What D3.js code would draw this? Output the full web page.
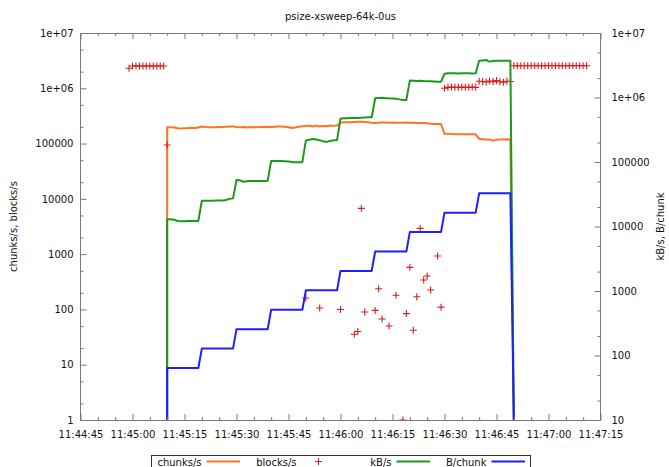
<!DOCTYPE html>
<html>
<head>
<meta charset="utf-8">
<script src="https://cdn.jsdelivr.net/npm/d3@7"></script>
<style>
  html, body { margin: 0; padding: 0; background: #fff; }
  svg { display: block; font-family: "DejaVu Sans", sans-serif; }
</style>
</head>
<body>
<svg id="chart" width="669" height="467"></svg>
<script>
// ---- data -------------------------------------------------------------
const chartTitle = "psize-xsweep-64k-0us";
const leftAxisTitle = "chunks/s, blocks/s";
const rightAxisTitle = "kB/s, B/chunk";

// Line series: one reading per second starting at lineStart; the first and
// last entries are the zero readings logged when the run starts and stops.
const lineStart = "11:45:10";

const chunksPerSec = [0,
  198000, 197000, 196000, 189000, 188000, 190000, 191000, 193000, 192000, 195000,
  203000, 199000, 198000, 197000, 198000, 200000, 199000, 201000, 203000, 204000,
  200000, 198000, 200000, 196000, 199000, 197000, 198000, 199000, 200000, 201000,
  200000, 202000, 204000, 203000, 201000, 198000, 191000, 196000, 201000, 206000,
  209000, 212000, 204000, 211000, 203000, 207000, 205000, 213000, 209000, 212000,
  240000, 243000, 244000, 242000, 245000, 247000, 249000, 246000, 243000, 238000,
  236000, 238000, 240000, 241000, 239000, 240000, 238000, 237000, 239000, 240000,
  238000, 237000, 236000, 236000, 235000, 232000, 228000, 226000, 225000, 226000,
  150000, 151000, 149000, 148000, 148000, 147000, 148000, 148000, 147000, 147000,
  122000, 120000, 119000, 118000, 113000, 117000, 119000, 118000, 120000, 119000,
  0];

const kBPerSec = [0,
  12900, 12900, 12700, 12200, 12100, 12100, 12150, 12200, 12150, 12200,
  25100, 25000, 25100, 25100, 25200, 25200, 25300, 25700, 26800, 27300,
  52600, 52000, 49500, 50500, 50800, 50600, 50800, 50700, 50800, 51000,
  104000, 104000, 103500, 104000, 103000, 101500, 100000, 99000, 98900, 99500,
  214000, 222000, 227000, 224000, 218000, 209000, 205000, 212000, 218000, 219000,
  470000, 476000, 478000, 480000, 481000, 483000, 485000, 488000, 492000, 494000,
  973000, 985000, 990000, 975000, 970000, 968000, 960000, 935000, 915000, 918000,
  1830000, 1820000, 1810000, 1820000, 1800000, 1790000, 1780000, 1770000, 1760000, 1760000,
  2330000, 2370000, 2380000, 2370000, 2360000, 2370000, 2380000, 2370000, 2360000, 2370000,
  3700000, 3750000, 3810000, 3600000, 3680000, 3720000, 3730000, 3720000, 3720000, 3710000,
  0];

const bytesPerChunk = [0,
  64, 64, 64, 64, 64, 64, 64, 64, 64, 64,
  128, 128, 128, 128, 128, 128, 128, 128, 128, 128,
  256, 256, 256, 256, 256, 256, 256, 256, 256, 256,
  512, 512, 512, 512, 512, 512, 512, 512, 512, 512,
  1024, 1024, 1024, 1024, 1024, 1024, 1024, 1024, 1024, 1024,
  2048, 2048, 2048, 2048, 2048, 2048, 2048, 2048, 2048, 2048,
  4096, 4096, 4096, 4096, 4096, 4096, 4096, 4096, 4096, 4096,
  8192, 8192, 8192, 8192, 8192, 8192, 8192, 8192, 8192, 8192,
  16384, 16384, 16384, 16384, 16384, 16384, 16384, 16384, 16384, 16384,
  32768, 32768, 32768, 32768, 32768, 32768, 32768, 32768, 32768, 32768,
  0];

// blocks/s readings (only the seconds where a value was logged)
const blockTimes = [
  "11:44:59", "11:45:00", "11:45:01", "11:45:02", "11:45:03", "11:45:04",
  "11:45:05", "11:45:06", "11:45:07", "11:45:08", "11:45:09", "11:45:10",
  "11:45:50", "11:45:54", "11:46:00", "11:46:04", "11:46:05", "11:46:06",
  "11:46:07", "11:46:10", "11:46:11", "11:46:12", "11:46:14", "11:46:16",
  "11:46:18", "11:46:19", "11:46:20", "11:46:21", "11:46:22", "11:46:23",
  "11:46:24", "11:46:25", "11:46:26", "11:46:28", "11:46:29",
  "11:46:30", "11:46:31", "11:46:32", "11:46:33", "11:46:34", "11:46:35",
  "11:46:36", "11:46:37", "11:46:38", "11:46:39",
  "11:46:40", "11:46:41", "11:46:42", "11:46:43", "11:46:44", "11:46:45",
  "11:46:46", "11:46:47", "11:46:48", "11:46:49",
  "11:46:50", "11:46:51", "11:46:52", "11:46:53", "11:46:54", "11:46:55",
  "11:46:56", "11:46:57", "11:46:58", "11:46:59", "11:47:00", "11:47:01",
  "11:47:02", "11:47:03", "11:47:04", "11:47:05", "11:47:06", "11:47:07",
  "11:47:08", "11:47:09", "11:47:10", "11:47:11"];
const blocksPerSec = [
  2300000, 2530000, 2540000, 2520000, 2530000, 2540000,
  2530000, 2520000, 2530000, 2540000, 2530000, 94000,
  161, 106, 100, 35.5, 40, 6730,
  90, 96, 237, 67, 50, 180,
  1, 84, 577, 42, 170, 2930,
  340, 402, 224, 925, 110,
  1000000, 1040000, 1050000, 1040000, 1040000, 1050000,
  1040000, 1040000, 1050000, 1040000,
  1340000, 1330000, 1300000, 1350000, 1320000, 1380000,
  1310000, 1290000, 1340000, 1330000,
  2550000, 2560000, 2550000, 2550000, 2560000, 2550000,
  2550000, 2560000, 2550000, 2550000, 2560000, 2550000,
  2550000, 2560000, 2550000, 2550000, 2560000, 2550000,
  2550000, 2560000, 2550000, 2550000];

const xTickLabels = ["11:44:45", "11:45:00", "11:45:15", "11:45:30", "11:45:45",
  "11:46:00", "11:46:15", "11:46:30", "11:46:45", "11:47:00", "11:47:15"];
const yLeftTicks = [1, 10, 100, 1000, 10000, 100000, 1e6, 1e7];
const yLeftLabels = ["1", "10", "100", "1000", "10000", "100000", "1e+06", "1e+07"];
const yRightTicks = [10, 100, 1000, 10000, 100000, 1e6, 1e7];
const yRightLabels = ["10", "100", "1000", "10000", "100000", "1e+06", "1e+07"];
const legendNames = ["chunks/s", "blocks/s", "kB/s", "B/chunk"];

// ---- layout & scales --------------------------------------------------
const COLORS = { chunks: "#ff7420", blocks: "#dc1e1e", kB: "#1a9a1a", bpc: "#1e1eff" };
const FRAME = "#7a7a7a";
const plot = { left: 80.5, right: 600.5, top: 33, bottom: 420 };

const parse = d3.timeParse("%H:%M:%S");
const x = d3.scaleTime()
  .domain([parse(xTickLabels[0]), parse(xTickLabels[xTickLabels.length - 1])])
  .range([plot.left, plot.right]);
const yL = d3.scaleLog().domain([1, 1e7]).range([plot.bottom, plot.top]).clamp(true);
const yR = d3.scaleLog().domain([10, 1e7]).range([plot.bottom, plot.top]).clamp(true);

const t0 = parse(lineStart);
const lineTime = i => d3.timeSecond.offset(t0, Math.max(0, Math.min(i - 1, chunksPerSec.length - 2)));

const svg = d3.select("#chart");

svg.append("defs").append("clipPath").attr("id", "plotClip")
  .append("rect")
  .attr("x", plot.left).attr("y", plot.top)
  .attr("width", plot.right - plot.left).attr("height", plot.bottom - plot.top);

// ---- marks -------------------------------------------------------------
const marks = svg.append("g").attr("clip-path", "url(#plotClip)");

function drawSeries(values, yScale, color) {
  marks.append("path")
    .datum(values)
    .attr("fill", "none")
    .attr("stroke", color)
    .attr("stroke-width", 2)
    .attr("stroke-linejoin", "round")
    .attr("d", d3.line().x((d, i) => x(lineTime(i))).y(d => yScale(d)));
}

function plusPath(cx, cy, r) {
  return `M${cx - r},${cy}H${cx + r}M${cx},${cy - r}V${cy + r}`;
}

drawSeries(chunksPerSec, yL, COLORS.chunks);

marks.append("g").selectAll("path")
  .data(blocksPerSec)
  .join("path")
  .attr("fill", "none")
  .attr("stroke", COLORS.blocks)
  .attr("stroke-width", 1.1)
  .attr("d", (d, i) => plusPath(x(parse(blockTimes[i])), yL(d), 3.5));

drawSeries(kBPerSec, yR, COLORS.kB);
drawSeries(bytesPerChunk, yR, COLORS.bpc);

// ---- axes --------------------------------------------------------------
function styleAxis(g) {
  g.select(".domain").remove();
  g.selectAll(".tick line").attr("stroke", FRAME);
  g.selectAll(".tick text")
    .attr("fill", "#111")
    .attr("font-family", "DejaVu Sans, sans-serif")
    .attr("font-size", 10);
}

const xMajor = xTickLabels.map(parse);
const xMinor = d3.timeSecond.every(5).range(x.domain()[0], d3.timeSecond.offset(x.domain()[1], 1))
  .filter(d => d.getSeconds() % 15 !== 0);

// bottom
svg.append("g").attr("transform", `translate(0,${plot.bottom})`)
  .call(d3.axisBottom(x).tickValues(xMajor).tickSize(-6).tickPadding(10.5)
    .tickFormat((d, i) => xTickLabels[i]))
  .call(styleAxis);
svg.append("g").attr("transform", `translate(0,${plot.bottom})`)
  .call(d3.axisBottom(x).tickValues(xMinor).tickSize(-3).tickFormat(""))
  .call(styleAxis);
// top (mirrored ticks)
svg.append("g").attr("transform", `translate(0,${plot.top})`)
  .call(d3.axisTop(x).tickValues(xMajor).tickSize(-6).tickFormat(""))
  .call(styleAxis);
svg.append("g").attr("transform", `translate(0,${plot.top})`)
  .call(d3.axisTop(x).tickValues(xMinor).tickSize(-3).tickFormat(""))
  .call(styleAxis);

function minorLog(domain) {
  const out = [];
  for (let p = Math.log10(domain[0]); p < Math.log10(domain[1]); p++) {
    out.push(2 * 10 ** p, 5 * 10 ** p);
  }
  return out;
}

// left
svg.append("g").attr("transform", `translate(${plot.left},0)`)
  .call(d3.axisLeft(yL).tickValues(yLeftTicks).tickSize(-6).tickPadding(7)
    .tickFormat((d, i) => yLeftLabels[i]))
  .call(styleAxis);
svg.append("g").attr("transform", `translate(${plot.left},0)`)
  .call(d3.axisLeft(yL).tickValues(minorLog(yL.domain())).tickSize(-3).tickFormat(""))
  .call(styleAxis);
// right
svg.append("g").attr("transform", `translate(${plot.right},0)`)
  .call(d3.axisRight(yR).tickValues(yRightTicks).tickSize(-6).tickPadding(11)
    .tickFormat((d, i) => yRightLabels[i]))
  .call(styleAxis);
svg.append("g").attr("transform", `translate(${plot.right},0)`)
  .call(d3.axisRight(yR).tickValues(minorLog(yR.domain())).tickSize(-3).tickFormat(""))
  .call(styleAxis);

// frame
svg.append("rect")
  .attr("x", plot.left).attr("y", plot.top + 0.5)
  .attr("width", plot.right - plot.left).attr("height", plot.bottom - plot.top)
  .attr("fill", "none").attr("stroke", FRAME).attr("stroke-width", 1);

// ---- titles ------------------------------------------------------------
svg.append("text")
  .attr("x", (plot.left + plot.right) / 2).attr("y", 19.5)
  .attr("text-anchor", "middle").attr("font-size", 10).attr("fill", "#111")
  .text(chartTitle);

svg.append("text")
  .attr("transform", `translate(17,${(plot.top + plot.bottom) / 2}) rotate(-90)`)
  .attr("text-anchor", "middle").attr("font-size", 10).attr("fill", "#111")
  .text(leftAxisTitle);

svg.append("text")
  .attr("transform", `translate(664,${(plot.top + plot.bottom) / 2}) rotate(-90)`)
  .attr("text-anchor", "middle").attr("font-size", 10).attr("fill", "#111")
  .text(rightAxisTitle);

// ---- legend ------------------------------------------------------------
const legend = svg.append("g");
legend.append("rect")
  .attr("x", 151.5).attr("y", 455.5).attr("width", 379).attr("height", 30)
  .attr("fill", "none").attr("stroke", "#333").attr("stroke-width", 1);

const legendColors = [COLORS.chunks, COLORS.blocks, COLORS.kB, COLORS.bpc];
legendNames.forEach((name, i) => {
  const textEnd = 201.5 + 95 * i;
  const ly = 461.5;
  legend.append("text")
    .attr("x", textEnd).attr("y", 465.5)
    .attr("text-anchor", "end").attr("font-size", 10).attr("fill", "#111")
    .text(name);
  if (i === 1) {
    legend.append("path")
      .attr("d", plusPath(textEnd + 22, ly, 3.5))
      .attr("stroke", legendColors[i]).attr("stroke-width", 1.1).attr("fill", "none");
  } else {
    legend.append("line")
      .attr("x1", textEnd + 5).attr("x2", textEnd + 38.5)
      .attr("y1", ly).attr("y2", ly)
      .attr("stroke", legendColors[i]).attr("stroke-width", 2);
  }
});
</script>
</body>
</html>
